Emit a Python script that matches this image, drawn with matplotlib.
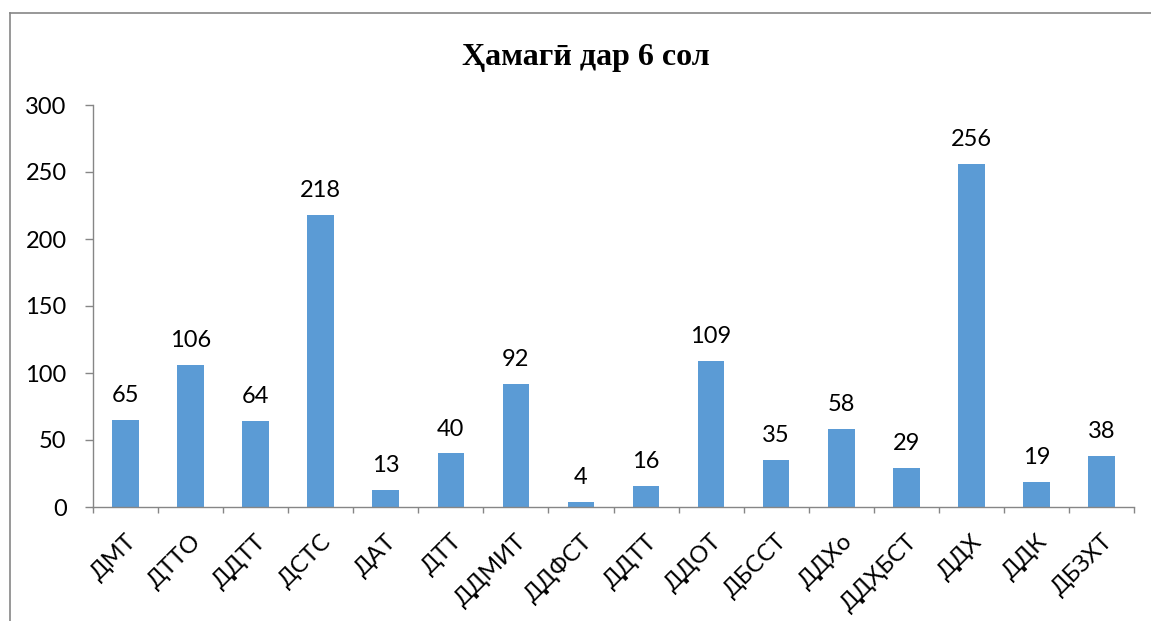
import matplotlib
matplotlib.use('Agg')
import matplotlib.pyplot as plt
from matplotlib.lines import Line2D

plt.rcParams['font.family'] = ['Lato', 'Open Sans', 'DejaVu Sans']

# data
categories = ['ДМТ', 'ДТТО', 'ДДТТ', 'ДСТС', 'ДАТ', 'ДТТ', 'ДДМИТ', 'ДДФСТ',
              'ДДТТ', 'ДДОТ', 'ДБССТ', 'ДДХо', 'ДДҲБСТ', 'ДДХ', 'ДДК', 'ДБЗХТ']
values = [65, 106, 64, 218, 13, 40, 92, 4, 16, 109, 35, 58, 29, 256, 19, 38]
title = 'Ҳамагӣ дар 6 сол'
yticks = [0, 50, 100, 150, 200, 250, 300]

bar_color = '#5B9BD5'
axis_color = '#868686'

fig = plt.figure(figsize=(11.51, 6.21), dpi=100)
ax = fig.add_axes([93 / 1151, 1 - 507 / 621, (1134 - 93) / 1151, (507 - 105) / 621])

x = list(range(len(categories)))
bars = ax.bar(x, values, width=0.41, color=bar_color, zorder=2)
for xi, v in zip(x, values):
    ax.annotate(str(v), (xi, v), xytext=(0, 10), textcoords='offset points',
                ha='center', va='bottom', fontsize=17)

ax.set_xlim(-0.5, len(categories) - 0.5)
ax.set_ylim(0, 300)
ax.set_yticks(yticks)
ax.tick_params(axis='y', labelsize=17, length=6, width=1, color=axis_color, pad=13)

ax.set_xticks(x)
ax.set_xticklabels(categories, rotation=45, ha='right', rotation_mode='anchor', fontsize=17)
ax.tick_params(axis='x', which='major', length=0, pad=17)
ax.set_xticks([i - 0.5 for i in range(len(categories) + 1)], minor=True)
ax.tick_params(axis='x', which='minor', length=4.5, width=1, color=axis_color)

for s in ['top', 'right']:
    ax.spines[s].set_visible(False)
for s in ['left', 'bottom']:
    ax.spines[s].set_color(axis_color)
    ax.spines[s].set_linewidth(1)

fig.text(586 / 1151, 1 - 65 / 621, title, ha='center', va='baseline',
         fontsize=23, fontweight='bold', family=['Liberation Serif', 'DejaVu Serif'])

# outer chart frame (left and top edges visible)
fig.add_artist(Line2D([10 / 1151, 10 / 1151], [0, 1 - 13 / 621], color=axis_color, lw=1.2))
fig.add_artist(Line2D([10 / 1151, 1], [1 - 13 / 621, 1 - 13 / 621], color=axis_color, lw=1.2))

fig.savefig('out.png', dpi=100)
